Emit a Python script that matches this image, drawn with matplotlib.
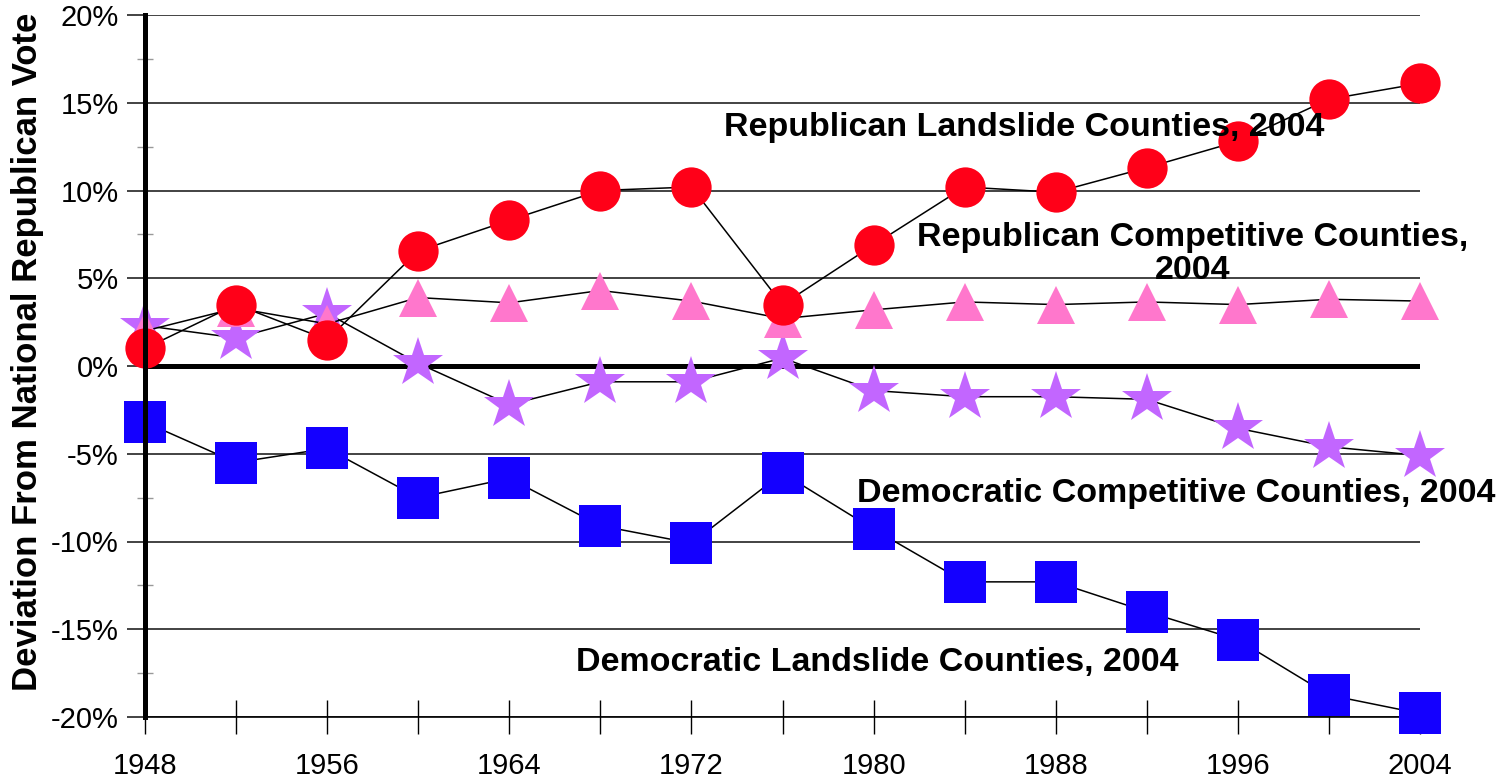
import matplotlib
matplotlib.use("Agg")
import matplotlib.pyplot as plt

plt.rcParams['font.family'] = ['Liberation Sans', 'DejaVu Sans']

# Election years
years = [1948, 1952, 1956, 1960, 1964, 1968, 1972, 1976,
         1980, 1984, 1988, 1992, 1996, 2000, 2004]

# Deviation from national Republican vote (%)
rep_landslide = [1.0, 3.5, 1.5, 6.55, 8.3, 10.0, 10.2, 3.5,
                 6.9, 10.2, 9.9, 11.3, 12.8, 15.2, 16.1]
rep_competitive = [2.0, 3.3, 2.4, 3.9, 3.6, 4.3, 3.7, 2.7,
                   3.2, 3.65, 3.5, 3.65, 3.5, 3.8, 3.7]
dem_competitive = [2.3, 1.6, 3.0, 0.15, -2.2, -0.9, -0.9, 0.45,
                   -1.4, -1.75, -1.75, -1.9, -3.55, -4.6, -5.1]
dem_landslide = [-3.2, -5.5, -4.7, -7.5, -6.4, -9.1, -10.1, -6.1,
                 -9.3, -12.3, -12.3, -14.0, -15.6, -18.75, -19.8]

y_ticks = [-20, -15, -10, -5, 0, 5, 10, 15, 20]
y_labels = ["-20%", "-15%", "-10%", "-5%", "0%", "5%", "10%", "15%", "20%"]
x_labels = [str(y) if (y - 1948) % 8 == 0 else "" for y in years]

fig = plt.figure(figsize=(15.09, 7.78), dpi=100)
ax = fig.add_axes([145 / 1509, 61 / 778, 1275 / 1509, 702 / 778])

# gridlines
for v in y_ticks:
    if v == 0:
        ax.axhline(v, color="black", lw=3.6, zorder=1)
    else:
        ax.axhline(v, color="#222222", lw=1.2, zorder=1)

# series: stars under triangles under circles
ax.plot(years, dem_competitive, color="black", lw=1.1, marker="*", ms=38,
        mfc="#C266FF", mec="#C266FF", mew=0, zorder=3, clip_on=False)
ax.plot(years, rep_competitive, color="black", lw=1.1, marker="^", ms=27,
        mfc="#FF77CC", mec="#FF77CC", mew=0, zorder=4, clip_on=False)
ax.plot(years, rep_landslide, color="black", lw=1.1, marker="o", ms=29,
        mfc="#FF0018", mec="#FF0018", mew=0, zorder=5, clip_on=False)
ax.plot(years, dem_landslide, color="black", lw=1.1, marker="s", ms=30,
        mfc="#1400FF", mec="#1400FF", mew=0, zorder=5, clip_on=False)

ax.set_xlim(1948, 2004)
ax.set_ylim(-20, 20)

ax.set_xticks(years)
ax.set_xticklabels(x_labels, fontsize=21)
ax.tick_params(axis="x", direction="inout", length=24, width=1, pad=13)

ax.set_yticks(y_ticks)
ax.set_yticklabels(y_labels, fontsize=21)
ax.tick_params(axis="y", direction="out", length=13, width=1.2, pad=6,
               color="#222222")
ax.set_yticks([-17.5, -12.5, -7.5, -2.5, 2.5, 7.5, 12.5, 17.5], minor=True)
ax.tick_params(axis="y", which="minor", direction="inout", length=12,
               width=1, color="#999999")

for s in ["top", "right"]:
    ax.spines[s].set_visible(False)
ax.spines["left"].set_linewidth(3.6)
ax.spines["left"].set_zorder(6)
ax.spines["bottom"].set_linewidth(1.2)

fig.text(28 / 1509, 1 - 352 / 778, "Deviation From National Republican Vote",
         rotation=90, ha="center", va="center", fontsize=25, fontweight="bold")

# series labels
txt = dict(fontsize=24.5, fontweight="bold", ha="center", va="center", zorder=7)
ax.text(1986.6, 13.6, "Republican Landslide Counties, 2004", **txt)
ax.text(1994.0, 6.38, "Republican Competitive Counties,\n2004",
        linespacing=1.05, **txt)
ax.text(1993.3, -7.24, "Democratic Competitive Counties, 2004", **txt)
ax.text(1980.15, -16.92, "Democratic Landslide Counties, 2004", **txt)

fig.savefig("out.png", dpi=100)
